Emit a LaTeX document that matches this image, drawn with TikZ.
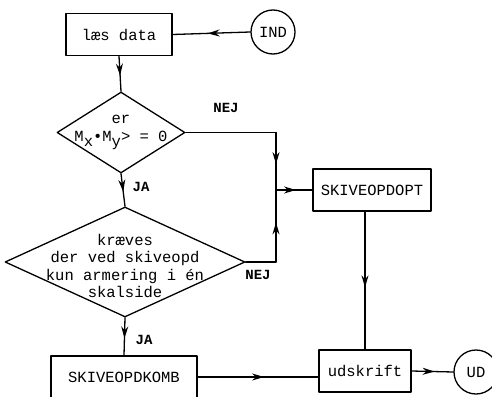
\documentclass[tikz,border=0pt]{standalone}
\usepackage{fontspec}
\setmainfont{Liberation Mono}
\usetikzlibrary{shapes.geometric,arrows.meta,decorations.markings}
\begin{document}
\begin{tikzpicture}[x=1pt, y=-1pt, font=\fontsize{15.5}{17.5}\selectfont, line join=round, line cap=round, >={Stealth[length=12pt,width=7pt]}, line width=1.3pt,
	box/.style={draw, minimum height=42pt, inner sep=0pt},
	term/.style={draw, circle, minimum size=44pt, inner sep=0pt},
	decision/.style={draw, diamond, inner sep=0pt},
	midarrow/.style={postaction={decorate, decoration={markings, mark=at position 0.55 with {\arrow{>}}}}},
	tag/.style={font=\fontsize{14}{16}\selectfont\bfseries}]
				\useasboundingbox (0,0) rectangle (492,396);
				\node[box, minimum width=106pt] (read) at (119,34.5) {læs data};
				\node[term] (ind) at (273,32) {IND};
				\node[decision, minimum width=128pt, minimum height=81pt, label={[align=center, yshift=0pt]center:er\\M\raisebox{-5pt}{x}\textbullet M\raisebox{-5pt}{y}> = 0}] (q1) at (121,132.5) {};
				\node[decision, minimum width=240pt, minimum height=110pt, label={[align=center, yshift=-4pt]center:kræves\\der ved skiveopd\\kun armering i én\\skalside}] (q2) at (125,262) {};
				\node[box, minimum width=118pt] (opt) at (372,190) {SKIVEOPDOPT};
				\node[box, minimum width=146pt] (komb) at (124,377) {SKIVEOPDKOMB};
				\node[box, minimum width=92pt] (out) at (365,371) {udskrift};
				\node[term] (ud) at (476,372) {UD};
				\coordinate (join) at (276,190);
				% connectors
				\draw[midarrow] (ind.west) -- (read.east);
				\draw[midarrow] (read.south) -- (q1.north);
				\draw[midarrow] (q1.south) -- (q2.north);
				\draw (q1.east) -- (q1.east -| join);
				\draw[midarrow] (q1.east -| join) -- (join);
				\draw (q2.east) -- (q2.east -| join);
				\draw[midarrow] (q2.east -| join) -- (join);
				\draw[midarrow] (join) -- (opt.west);
				\draw[midarrow] (q2.south) -- (komb.north);
				\draw[midarrow] (komb.east) -- (komb.east -| out.west);
				\draw[midarrow] (out.north |- opt.south) -- (out.north);
				\draw[midarrow] (out.east) -- (ud.west);
				% labels
				\node[tag] (nej1) at (226,108) {NEJ};
				\node[tag] (ja1) at (141,187) {JA};
				\node[tag] (nej2) at (258,275) {NEJ};
				\node[tag] (ja2) at (144,340) {JA};
			\end{tikzpicture}
\end{document}
